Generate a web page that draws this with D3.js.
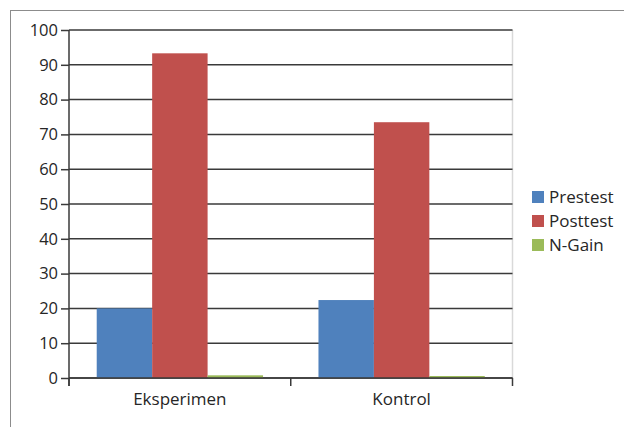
<!DOCTYPE html>
<html>
<head>
<meta charset="utf-8">
<script src="https://cdn.jsdelivr.net/npm/d3@7"></script>
<style>
  html, body { margin: 0; padding: 0; background: #fff; }
  svg { display: block; }
  text { font-family: "Open Sans", "Liberation Sans", sans-serif; fill: #262626; }
</style>
</head>
<body>
<svg id="chart" width="624" height="427"></svg>
<script>
// Test scores per group
const categories = ["Eksperimen", "Kontrol"];
const seriesNames = ["Prestest", "Posttest", "N-Gain"];
const prestest = [20.0, 22.4];
const posttest = [93.3, 73.5];
const nGain = [0.77, 0.57];
const yTicks = [0, 10, 20, 30, 40, 50, 60, 70, 80, 90, 100];
const colors = ["#4F81BD", "#C0504D", "#9BBB59"];

const seriesValues = [prestest, posttest, nGain];

const svg = d3.select("#chart");
const W = 624, H = 427;

// outer chart frame (runs off the right and bottom edges)
svg.append("rect")
  .attr("x", 10.5).attr("y", 10.5)
  .attr("width", W + 10).attr("height", H + 10)
  .attr("fill", "#fff").attr("stroke", "#8c8c8c").attr("stroke-width", 1);

const plot = { left: 69, right: 512.5, top: 30, bottom: 378 };

const x0 = d3.scaleBand().domain(categories)
  .range([plot.left, plot.right]).paddingInner(0.25).paddingOuter(0.125);
const x1 = d3.scaleBand().domain(seriesNames).range([0, x0.bandwidth()]);
const y = d3.scaleLinear().domain([0, 100]).range([plot.bottom, plot.top]);

// right boundary of plot area
svg.append("line")
  .attr("x1", plot.right).attr("x2", plot.right)
  .attr("y1", plot.top).attr("y2", plot.bottom)
  .attr("stroke", "#d9d9d9").attr("stroke-width", 1.5);

// horizontal gridlines
svg.append("g").selectAll("line").data(yTicks).join("line")
  .attr("x1", plot.left).attr("x2", plot.right)
  .attr("y1", d => y(d)).attr("y2", d => y(d))
  .attr("stroke", "#3a3a3a").attr("stroke-width", 1.5);

// bars
const groups = svg.append("g").selectAll("g").data(categories).join("g")
  .attr("transform", c => `translate(${x0(c)},0)`);
groups.selectAll("rect")
  .data((c, ci) => seriesNames.map((s, si) => ({ s, si, v: seriesValues[si][ci] })))
  .join("rect")
  .attr("x", d => x1(d.s))
  .attr("width", x1.bandwidth())
  .attr("y", d => y(d.v))
  .attr("height", d => y(0) - y(d.v))
  .attr("fill", d => colors[d.si]);

// y axis
const yAxis = d3.axisLeft(y).tickValues(yTicks).tickSize(8).tickPadding(3);
const gy = svg.append("g").attr("transform", `translate(${plot.left},0)`).call(yAxis);
gy.select(".domain").remove();
gy.selectAll(".tick line").attr("stroke", "#3a3a3a").attr("stroke-width", 1.5);
gy.selectAll(".tick text").attr("font-size", 16.5)
  .attr("font-family", "'Open Sans', 'Liberation Sans', sans-serif").attr("fill", "#262626");
gy.append("line")
  .attr("x1", 0).attr("x2", 0).attr("y1", plot.top).attr("y2", plot.bottom + 8)
  .attr("stroke", "#3a3a3a").attr("stroke-width", 1.5);

// x axis with category boundary ticks
const gx = svg.append("g");
gx.append("line")
  .attr("x1", plot.left).attr("x2", plot.right)
  .attr("y1", plot.bottom).attr("y2", plot.bottom)
  .attr("stroke", "#3a3a3a").attr("stroke-width", 1.5);
const bounds = [plot.left, ...categories.slice(1).map(c => x0(c) - x0.step() * x0.paddingInner() / 2), plot.right];
gx.selectAll("line.tk").data(bounds).join("line").attr("class", "tk")
  .attr("x1", d => d).attr("x2", d => d)
  .attr("y1", plot.bottom).attr("y2", plot.bottom + 8)
  .attr("stroke", "#3a3a3a").attr("stroke-width", 1.5);
gx.selectAll("text").data(categories).join("text")
  .attr("x", c => x0(c) + x0.bandwidth() / 2)
  .attr("y", 405)
  .attr("text-anchor", "middle")
  .attr("font-size", 17)
  .text(c => c);

// legend
const legend = svg.append("g").attr("transform", "translate(532,191)");
const items = legend.selectAll("g").data(seriesNames).join("g")
  .attr("transform", (d, i) => `translate(0,${i * 24})`);
items.append("rect").attr("width", 12).attr("height", 12)
  .attr("fill", (d, i) => colors[i]);
items.append("text").attr("x", 17).attr("y", 12)
  .attr("font-size", 17).text(d => d);
</script>
</body>
</html>
